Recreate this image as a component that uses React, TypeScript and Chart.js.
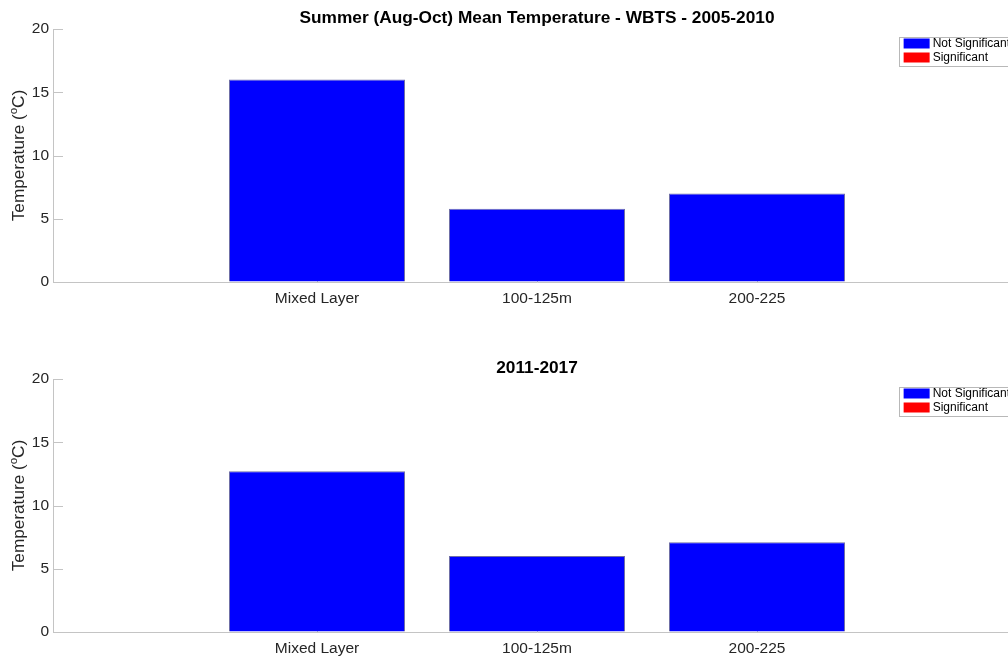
import React, { useEffect, useRef } from "react";
import { Chart, registerables } from "chart.js";

Chart.register(...registerables);

// Categories on the x axis and where each sits on the linear axis
const categories = ["Mixed Layer", "100-125m", "200-225"];
const categoryPositions = [1, 2, 3];

// Mean summer temperatures (°C) per depth layer
const temps2005to2010 = [16.0, 5.8, 7.0];
const temps2011to2017 = [12.7, 6.0, 7.1];

// Trend significance per depth layer
const significant2005to2010 = [false, false, false];
const significant2011to2017 = [false, false, false];

// Axis limits and ticks
const xLimits = [-0.2, 4.2];
const yLimits = [0, 20];
const yTickStep = 5;

// Texts
const legendLabels = ["Not Significant", "Significant"];
const topTitle = "Summer (Aug-Oct) Mean Temperature - WBTS - 2005-2010";
const bottomTitle = "2011-2017";
const yLabelBefore = "Temperature (";
const yLabelSup = "o";
const yLabelAfter = "C)";

const FONT = '"Liberation Sans", Arial, Helvetica, sans-serif';
const AXIS_GREY = "#c4c4c4";
const TEXT_DARK = "#262626";
const BAR_BLUE = "#0000ff";
const BAR_RED = "#ff0000";

const CANVAS_WIDTH = 1021;

type PanelOptions = {
  title: string;
};

const matlabAxesPlugin = {
  id: "matlabAxes",
  beforeDatasetsDraw(chart: any) {
    const { ctx, chartArea: a, scales } = chart;
    ctx.save();
    ctx.strokeStyle = AXIS_GREY;
    ctx.lineWidth = 1;
    ctx.beginPath();
    for (const t of scales.y.ticks) {
      const py = Math.round(scales.y.getPixelForValue(t.value)) + 0.5;
      ctx.moveTo(a.left, py);
      ctx.lineTo(a.left + 10, py);
    }
    for (const t of scales.x.ticks) {
      const px = Math.round(scales.x.getPixelForValue(t.value)) + 0.5;
      ctx.moveTo(px, a.bottom);
      ctx.lineTo(px, a.bottom - 10);
    }
    ctx.stroke();
    ctx.restore();
  },
  afterDraw(chart: any, _args: any, opts: PanelOptions) {
    const { ctx, chartArea: a } = chart;

    // Title
    ctx.save();
    ctx.fillStyle = "#000000";
    ctx.font = `bold 17.3px ${FONT}`;
    ctx.textAlign = "center";
    ctx.textBaseline = "alphabetic";
    ctx.fillText(opts.title, (a.left + a.right) / 2, a.top - 6);
    ctx.restore();

    // Y axis label with superscript degree "o"
    ctx.save();
    const mainFont = `17.2px ${FONT}`;
    const supFont = `11.5px ${FONT}`;
    ctx.font = mainFont;
    const w1 = ctx.measureText(yLabelBefore).width;
    const w3 = ctx.measureText(yLabelAfter).width;
    ctx.font = supFont;
    const w2 = ctx.measureText(yLabelSup).width;
    ctx.translate(a.left - 29.5, (a.top + a.bottom) / 2);
    ctx.rotate(-Math.PI / 2);
    ctx.fillStyle = TEXT_DARK;
    ctx.textAlign = "left";
    ctx.textBaseline = "alphabetic";
    let x = -(w1 + w2 + w3) / 2;
    ctx.font = mainFont;
    ctx.fillText(yLabelBefore, x, 0);
    x += w1;
    ctx.font = supFont;
    ctx.fillText(yLabelSup, x, -6.5);
    x += w2;
    ctx.font = mainFont;
    ctx.fillText(yLabelAfter, x, 0);
    ctx.restore();

    // Legend box in the upper right corner of the axes
    ctx.save();
    ctx.font = `12px ${FONT}`;
    const datasets = chart.data.datasets;
    let maxW = 0;
    for (const ds of datasets) maxW = Math.max(maxW, ctx.measureText(ds.label).width);
    const rowH = 14;
    const boxW = 34 + maxW + 7;
    const boxH = rowH * datasets.length + 1;
    const boxRight = a.right - 4;
    const boxLeft = boxRight - boxW;
    const boxTop = a.top + 7.5;
    ctx.fillStyle = "#ffffff";
    ctx.fillRect(boxLeft, boxTop, boxW, boxH);
    ctx.strokeStyle = "#b8b8b8";
    ctx.lineWidth = 1;
    ctx.strokeRect(Math.round(boxLeft) + 0.5, Math.round(boxTop) + 0.5, Math.round(boxW), Math.round(boxH));
    ctx.textAlign = "left";
    ctx.textBaseline = "middle";
    datasets.forEach((ds: any, i: number) => {
      const cy = boxTop + rowH * i + 7;
      ctx.fillStyle = ds.backgroundColor;
      ctx.fillRect(boxLeft + 5, cy - 5, 26, 10);
      ctx.fillStyle = "#000000";
      ctx.fillText(ds.label, boxLeft + 34, cy + 0.5);
    });
    ctx.restore();
  },
};

function makePanel(
  canvas: HTMLCanvasElement,
  title: string,
  values: number[],
  significant: boolean[],
  padTop: number,
  xAxisHeight: number
) {
  const notSig = categoryPositions.map((x, i) => ({ x, y: significant[i] ? null : values[i] }));
  const sig = categoryPositions.map((x, i) => ({ x, y: significant[i] ? values[i] : null }));

  const tickFont = { family: FONT, size: 15.5 };

  return new Chart(canvas, {
    type: "bar",
    data: {
      datasets: [
        {
          label: legendLabels[0],
          data: notSig as any,
          backgroundColor: BAR_BLUE,
          borderColor: "rgba(50,50,130,0.7)",
          borderWidth: 1,
          categoryPercentage: 1,
          barPercentage: 0.8,
          grouped: false,
        },
        {
          label: legendLabels[1],
          data: sig as any,
          backgroundColor: BAR_RED,
          borderColor: "rgba(120,40,40,0.7)",
          borderWidth: 1,
          categoryPercentage: 1,
          barPercentage: 0.8,
          grouped: false,
        },
      ],
    },
    options: {
      animation: false,
      responsive: false,
      events: [],
      layout: { padding: { top: padTop, right: 0, bottom: 0, left: 0 } },
      plugins: {
        legend: { display: false },
        tooltip: { enabled: false },
        title: { display: false },
        matlabAxes: { title },
      } as any,
      scales: {
        x: {
          type: "linear",
          min: xLimits[0],
          max: xLimits[1],
          offset: false,
          afterBuildTicks: (s: any) => {
            s.ticks = categoryPositions.map((v) => ({ value: v }));
          },
          afterFit: (s: any) => {
            s.height = xAxisHeight;
          },
          ticks: {
            autoSkip: false,
            maxRotation: 0,
            color: TEXT_DARK,
            font: tickFont,
            padding: 7,
            callback: (v: any) => categories[categoryPositions.indexOf(Number(v))] ?? "",
          },
          grid: { display: true, offset: false, drawOnChartArea: false, drawTicks: false },
          border: { display: true, color: AXIS_GREY, width: 1 },
        },
        y: {
          min: yLimits[0],
          max: yLimits[1],
          afterFit: (s: any) => {
            s.width = 53;
          },
          ticks: {
            stepSize: yTickStep,
            color: TEXT_DARK,
            font: tickFont,
            padding: 4,
          },
          grid: { display: true, drawOnChartArea: false, drawTicks: false },
          border: { display: true, color: AXIS_GREY, width: 1 },
        },
      },
    } as any,
    plugins: [matlabAxesPlugin as any],
  });
}

export default function App() {
  const topRef = useRef<HTMLCanvasElement>(null);
  const bottomRef = useRef<HTMLCanvasElement>(null);

  useEffect(() => {
    const charts: Chart[] = [];
    if (topRef.current) {
      charts.push(makePanel(topRef.current, topTitle, temps2005to2010, significant2005to2010, 29, 48));
    }
    if (bottomRef.current) {
      charts.push(makePanel(bottomRef.current, bottomTitle, temps2011to2017, significant2011to2017, 49, 25));
    }
    return () => charts.forEach((c) => c.destroy());
  }, []);

  return (
    <div
      style={{
        position: "absolute",
        left: 0,
        top: 0,
        width: 1008,
        height: 657,
        overflow: "hidden",
        background: "#ffffff",
      }}
    >
      <canvas
        ref={topRef}
        width={CANVAS_WIDTH}
        height={330}
        style={{ position: "absolute", left: 0, top: 0, width: CANVAS_WIDTH, height: 330 }}
      />
      <canvas
        ref={bottomRef}
        width={CANVAS_WIDTH}
        height={327}
        style={{ position: "absolute", left: 0, top: 330, width: CANVAS_WIDTH, height: 327 }}
      />
    </div>
  );
}
